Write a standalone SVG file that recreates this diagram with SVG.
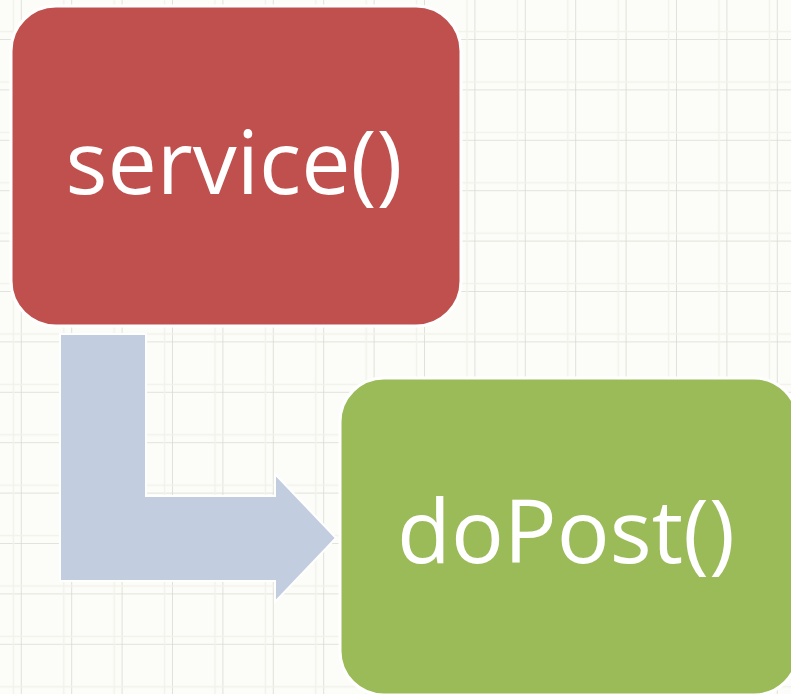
<svg xmlns="http://www.w3.org/2000/svg" width="791" height="694" viewBox="0 0 791 694">
  <defs>
    <pattern id="grid" x="20.8" y="39" width="50.4" height="50.4" patternUnits="userSpaceOnUse">
      <path d="M0 0V50.4M0 0H50.4" stroke="#dadad4" stroke-width="1.6" fill="none"/>
      <path d="M43 0V50.4M0 43H50.4" stroke="#f2f2ec" stroke-width="1.5" fill="none"/>
    </pattern>
    <style>
      .box { stroke: #ffffff; stroke-width: 3; }
      .label { font-family: "Open Sans", "Noto Sans", sans-serif; font-size: 88px; fill: #ffffff; text-anchor: middle; }
    </style>
  </defs>
  <rect width="791" height="694" fill="#fcfdf8"/>
  <rect width="791" height="694" fill="url(#grid)"/>
  <g id="connectors">
    <path d="M60 334H146V496H275V474L336 538L275 602V581H60Z" fill="#c2cde0" stroke="#ffffff" stroke-width="2"/>
  </g>
  <g id="service">
    <rect class="box" x="11" y="6" width="450" height="320" rx="45" fill="#c0504d"/>
    <text class="label" x="234" y="194">service()</text>
  </g>
  <g id="doPost">
    <rect class="box" x="340" y="378" width="458" height="317" rx="44" fill="#9bbb59"/>
    <text class="label" x="566" y="563">doPost()</text>
  </g>
</svg>
